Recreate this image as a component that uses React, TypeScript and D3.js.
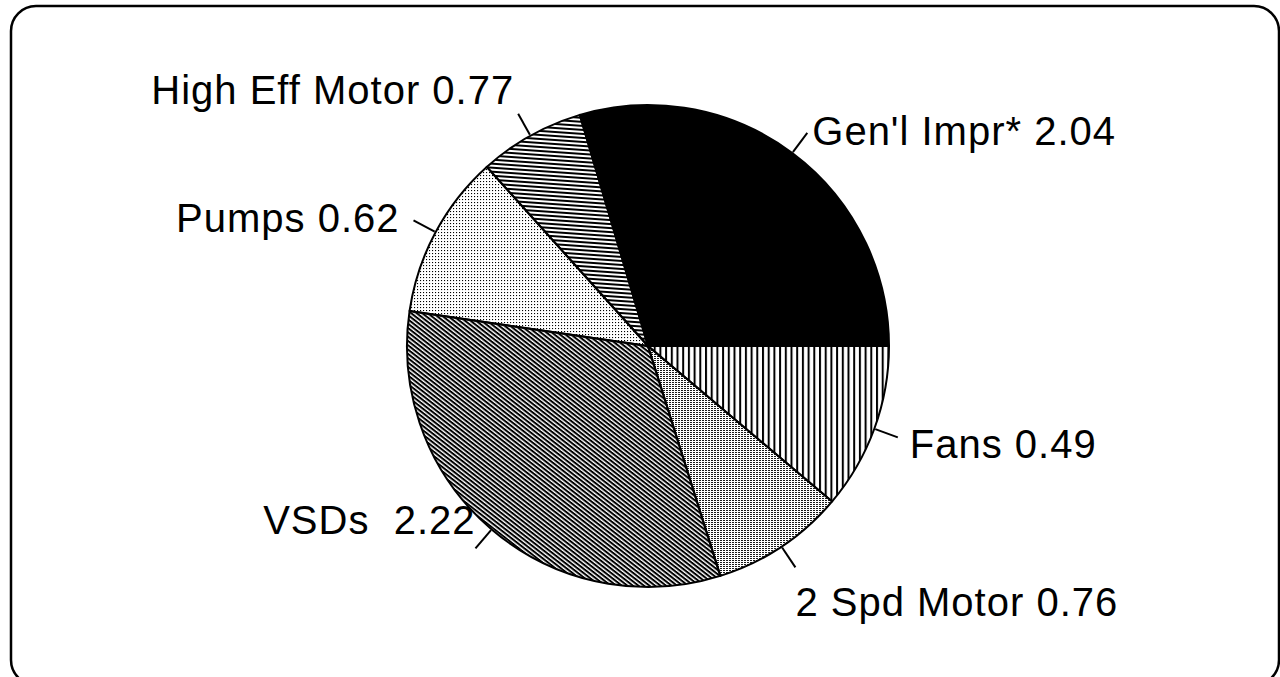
import { useEffect } from "react";
import * as d3 from "d3";

// slices listed counter-clockwise from 3 o'clock
const categories = ["Gen'l Impr*", "High Eff Motor", "Pumps", "VSDs ", "2 Spd Motor", "Fans"];
// wedge sizes as drawn in the picture
const sliceValues = [2.04, 0.49, 0.76, 2.22, 0.62, 0.77];
// values printed next to each wedge
const labelValues = ["2.04", "0.77", "0.62", "2.22", "0.76", "0.49"];
const fills = ["#000", "url(#hlines)", "url(#dots)", "url(#diag)", "url(#fine)", "url(#vlines)"];

// text placement relative to the leader's outer end
const labelLayout = [
  { anchor: "start", dx: 5, dy: 12 },
  { anchor: "end", dx: -4, dy: -10 },
  { anchor: "end", dx: -14, dy: 12 },
  { anchor: "end", dx: 0, dy: -14 },
  { anchor: "start", dx: 0, dy: 49 },
  { anchor: "start", dx: 12, dy: 21 },
];

const W = 1280;
const H = 677;
const CX = 648;
const CY = 346;
const R = 241;

export default function App() {
  useEffect(() => {
    document.body.style.margin = "0";
  }, []);

  const pie = d3
    .pie<number>()
    .sort(null)
    .value((d) => d)
    .startAngle(Math.PI / 2)
    .endAngle(Math.PI / 2 - 2 * Math.PI);
  const arcs = pie(sliceValues);
  const arc = d3.arc<d3.PieArcDatum<number>>().innerRadius(0).outerRadius(R);

  return (
    <svg width={W} height={H} style={{ display: "block", background: "#fff" }}>
      <defs>
        <pattern id="hlines" width="8" height="4" patternUnits="userSpaceOnUse" patternTransform="rotate(4)">
          <rect x="0" y="0" width="8" height="2" fill="#000" />
        </pattern>
        <pattern id="dots" width="3" height="3" patternUnits="userSpaceOnUse">
          <rect x="0" y="0" width="1.1" height="1.1" fill="#000" />
        </pattern>
        <pattern id="diag" width="8" height="3.4" patternUnits="userSpaceOnUse" patternTransform="rotate(38)">
          <rect x="0" y="0" width="8" height="2" fill="#000" />
        </pattern>
        <pattern id="fine" width="3" height="2" patternUnits="userSpaceOnUse">
          <rect x="0" y="0" width="2" height="0.9" fill="#000" />
        </pattern>
        <pattern id="vlines" width="5.7" height="8" patternUnits="userSpaceOnUse">
          <rect x="0" y="0" width="2" height="8" fill="#000" />
        </pattern>
      </defs>
      <rect x={11} y={6} width={1268} height={679} rx={25} fill="none" stroke="#000" strokeWidth={2.5} />
      <g transform={`translate(${CX},${CY})`}>
        {arcs.map((a, i) => (
          <path key={i} d={arc(a) || ""} fill={fills[i]} stroke="#000" strokeWidth={2} strokeLinejoin="round" />
        ))}
        {arcs.map((a, i) => {
          const mid = (a.startAngle + a.endAngle) / 2;
          const sx = Math.sin(mid);
          const sy = -Math.cos(mid);
          const x1 = sx * (R + 1);
          const y1 = sy * (R + 1);
          const x2 = sx * (R + 25);
          const y2 = sy * (R + 25);
          const lay = labelLayout[i];
          return (
            <g key={"l" + i}>
              <line x1={x1} y1={y1} x2={x2} y2={y2} stroke="#000" strokeWidth={2} />
              <text
                x={x2 + lay.dx}
                y={y2 + lay.dy}
                textAnchor={lay.anchor}
                fontFamily="'Liberation Sans', Arial, sans-serif"
                fontSize={40}
                letterSpacing={1}
                fill="#000"
                style={{ whiteSpace: "pre" }}
              >
                {categories[i] + " " + labelValues[i]}
              </text>
            </g>
          );
        })}
      </g>
    </svg>
  );
}
